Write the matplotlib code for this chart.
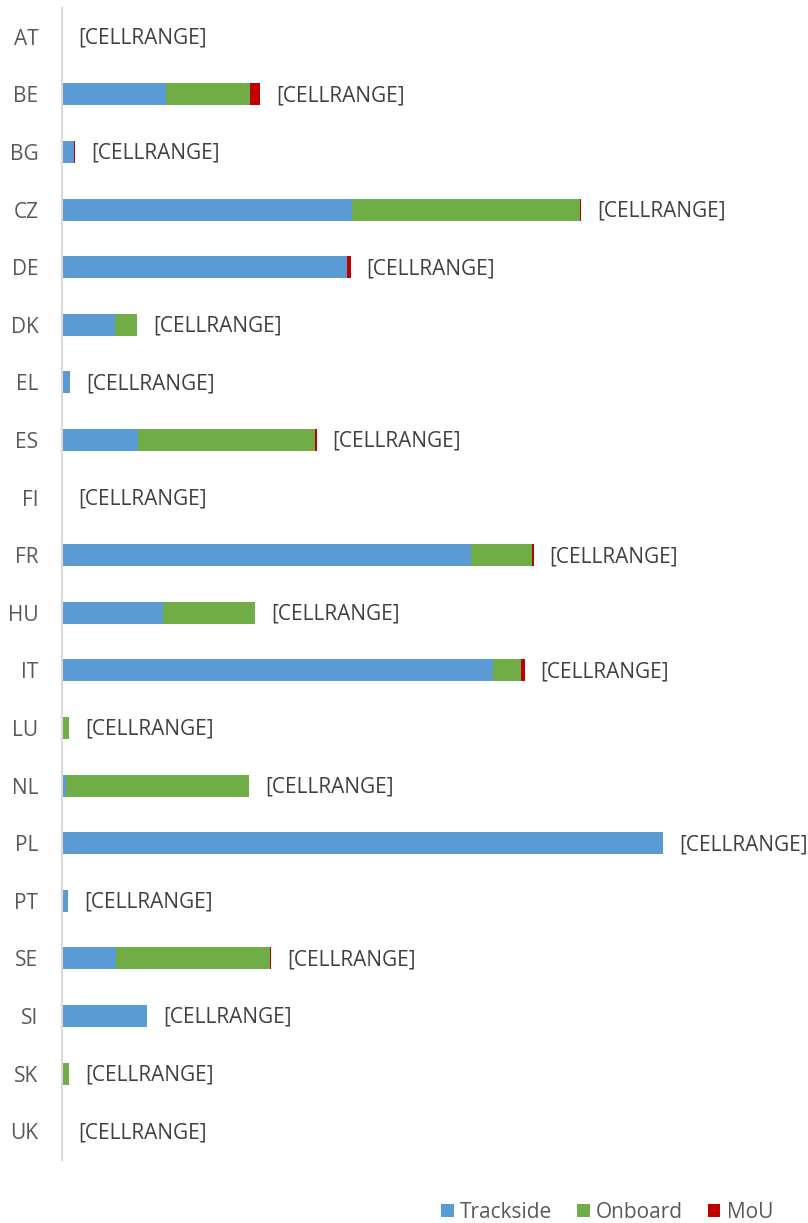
import matplotlib
matplotlib.use("Agg")
import matplotlib.pyplot as plt
import numpy as np

countries = ["AT", "BE", "BG", "CZ", "DE", "DK", "EL", "ES", "FI", "FR",
             "HU", "IT", "LU", "NL", "PL", "PT", "SE", "SI", "SK", "UK"]
trackside = [0, 104, 12, 290, 285, 53, 8, 76, 0, 409,
             101, 431, 0, 4, 601, 6, 54, 85, 0, 0]
onboard = [0, 84, 0, 228, 0, 22, 0, 177, 0, 61,
           92, 28, 7, 183, 0, 0, 154, 0, 7, 0]
mou = [0, 10, 1, 1, 3.5, 0, 0, 1.5, 0, 1.5,
       0, 3.5, 0, 0, 0, 0, 1, 0, 0, 0]
labels = ["[CELLRANGE]"] * len(countries)

plt.rcParams["font.family"] = ["Open Sans", "DejaVu Sans"]

fig = plt.figure(figsize=(8.08, 12.23), dpi=100)
ax = fig.add_axes([62 / 808, 63 / 1223, 746 / 808, 1152 / 1223])

y = np.arange(len(countries))
t = np.array(trackside)
o = np.array(onboard)
m = np.array(mou)
h = 0.38
ax.barh(y, t, height=h, color="#5B9BD5", label="Trackside")
ax.barh(y, o, height=h, left=t, color="#70AD47", label="Onboard")
ax.barh(y, m, height=h, left=t + o, color="#C00000", label="MoU")

total = t + o + m
for yi, tot, lab in zip(y, total, labels):
    ax.annotate(lab, (tot, yi), xytext=(11.5, -1), textcoords="offset points",
                va="center", ha="left", fontsize=15, color="#404040")

ax.set_xlim(0, 746)
ax.set_ylim(len(countries) - 0.5, -0.5)
ax.set_yticks(y)
ax.set_yticklabels(countries, fontsize=15, color="#595959")
ax.tick_params(axis="y", length=0, pad=17)
ax.set_xticks([])
for s in ["top", "right", "bottom"]:
    ax.spines[s].set_visible(False)
ax.spines["left"].set_color("#D9D9D9")
ax.spines["left"].set_linewidth(1.5)

fig.legend(loc="center", bbox_to_anchor=(607 / 808, 1 - 1212 / 1223),
           ncol=3, frameon=False, fontsize=15, handlelength=0.6,
           handleheight=0.6, handletextpad=0.3, columnspacing=1.2,
           labelcolor="#595959")

fig.savefig("out.png", dpi=100)
